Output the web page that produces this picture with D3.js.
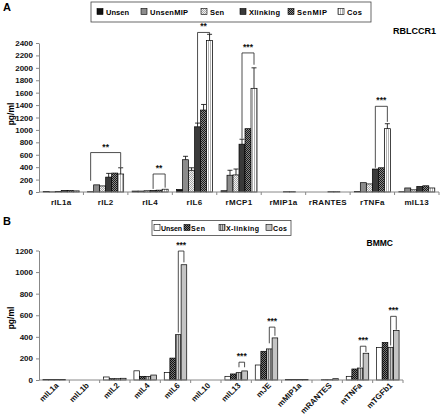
<!DOCTYPE html>
<html><head><meta charset="utf-8">
<script src="https://cdn.jsdelivr.net/npm/d3@7"></script>
<style>body{margin:0;background:#fff}svg{font-family:"Liberation Sans",Arial,sans-serif;font-weight:bold}</style>
</head><body><svg id="c" width="440" height="417"></svg>
<script>
// ---------- Panel A data ----------
const catsA = ["rIL1a","rIL2","rIL4","rIL6","rMCP1","rMIP1a","rRANTES","rTNFa","mIL13"];
const seriesA = ["Unsen","UnsenMIP","Sen","Xlinking","SenMIP","Cos"];
const valsA = {
  Unsen:    [8, 5, 15, 40, 20, 0, 0, 10, 5],
  UnsenMIP: [2, 115, 15, 520, 270, 0, 0, 150, 65],
  Sen:      [8, 98, 20, 350, 275, 0, 0, 130, 35],
  Xlinking: [25, 240, 25, 1050, 770, 5, 5, 370, 90],
  SenMIP:   [25, 305, 30, 1320, 1020, 5, 5, 390, 100],
  Cos:      [18, 290, 45, 2440, 1670, 0, 0, 1020, 65]
};
const errA = {
  Unsen:    [0,0,0,0,0,0,0,0,0],
  UnsenMIP: [0,0,0,55,80,0,0,0,0],
  Sen:      [0,0,0,40,95,0,0,0,0],
  Xlinking: [0,60,0,60,80,0,0,0,0],
  SenMIP:   [0,0,0,90,0,0,0,0,0],
  Cos:      [0,100,0,100,330,0,0,80,0]
};
const ticksA = [0,200,400,600,800,1000,1200,1400,1600,1800,2000,2200,2400];
// brackets: category, from series, to series, top value, left leg bottom, right leg bottom, label
const bracketsA = [
  ["rIL2","Unsen","Cos",635,180,400,"**"],
  ["rIL4","Xlinking","Cos",290,50,70,"**"],
  ["rIL6","Xlinking","Cos",2570,1090,2520,"**"],
  ["rMCP1","Xlinking","Cos",2240,860,2050,"***"],
  ["rTNFa","Xlinking","Cos",1380,390,1130,"***"]
];

// ---------- Panel B data ----------
const catsB = ["mIL1a","mIL1b","mIL2","mIL4","mIL6","mIL10","mIL13","mJE","mMIP1a","mRANTES","mTNFa","mTGFb1"];
const seriesB = ["Unsen","Sen","X-linking","Cos"];
const valsB = {
  "Unsen":     [5, 0, 28, 85, 70, 0, 34, 139, 5, 0, 34, 300],
  "Sen":       [5, 0, 12, 34, 203, 0, 56, 266, 5, 3, 102, 347],
  "X-linking": [5, 0, 12, 32, 420, 0, 68, 288, 5, 3, 111, 303],
  "Cos":       [5, 0, 16, 46, 1068, 0, 84, 390, 5, 12, 248, 458]
};
const ticksB = [0,200,400,600,800,1000,1200];
const bracketsB = [
  ["mIL6","X-linking","Cos",1195,440,1090,"***"],
  ["mIL13","X-linking","Cos",165,118,118,"***"],
  ["mJE","X-linking","Cos",490,340,410,"***"],
  ["mTNFa","X-linking","Cos",313,120,260,"***"],
  ["mTGFb1","X-linking","Cos",590,320,465,"***"]
];

const svg = d3.select("#c");
const defs = svg.append("defs");
function checker(id, a, b, s){
  const p = defs.append("pattern").attr("id",id).attr("width",s*2).attr("height",s*2).attr("patternUnits","userSpaceOnUse");
  p.append("rect").attr("width",s*2).attr("height",s*2).attr("fill",a);
  p.append("rect").attr("width",s).attr("height",s).attr("fill",b);
  p.append("rect").attr("x",s).attr("y",s).attr("width",s).attr("height",s).attr("fill",b);
}
function vstripe(id, bg, fg){
  const p = defs.append("pattern").attr("id",id).attr("width",2).attr("height",2).attr("patternUnits","userSpaceOnUse");
  p.append("rect").attr("width",2).attr("height",2).attr("fill",bg);
  p.append("rect").attr("width",1).attr("height",2).attr("fill",fg);
}
checker("chkLight","#f2f2f2","#a8a8a8",1);
checker("chkDark","#8a8a8a","#1a1a1a",1);
vstripe("stripeCos","#ffffff","#b0b0b0");
vstripe("stripeX","#c8c8c8","#707070");
checker("chkB","#777","#111",1);

const fillA = {Unsen:"#111111",UnsenMIP:"#8c8c8c",Sen:"url(#chkLight)",Xlinking:"#3a3a3a",SenMIP:"url(#chkDark)",Cos:"url(#stripeCos)"};
const fillB = {"Unsen":"#ffffff","Sen":"url(#chkB)","X-linking":"url(#stripeX)","Cos":"#c4c4c4"};

function panel(opts){
  const {cats, series, vals, errs, ticks, brackets, x0, x1, yTop, yBot, ymax, fills, rot, pad} = opts;
  const x = d3.scaleBand().domain(cats).range([x0,x1]);
  const xs = d3.scaleBand().domain(series).range([0,x.bandwidth()]).paddingOuter(pad).paddingInner(0);
  const y = d3.scaleLinear().domain([0,ymax]).range([yBot,yTop]);
  const g = svg.append("g");
  // bars
  series.forEach(s=>{
    cats.forEach((c,i)=>{
      const v = vals[s][i];
      const bx = x(c)+xs(s), w = xs.bandwidth();
      if (v>0) g.append("rect").attr("x",bx).attr("y",y(v)).attr("width",w).attr("height",y(0)-y(v))
        .attr("fill",fills[s]).attr("stroke","#000").attr("stroke-width",0.7);
      const e = errs ? errs[s][i] : 0;
      if (e>0){
        const cx = bx+w/2;
        g.append("line").attr("x1",cx).attr("x2",cx).attr("y1",y(v)).attr("y2",y(v+e)).attr("stroke","#000").attr("stroke-width",0.8);
        g.append("line").attr("x1",cx-2.5).attr("x2",cx+2.5).attr("y1",y(v+e)).attr("y2",y(v+e)).attr("stroke","#000").attr("stroke-width",0.8);
      }
    });
  });
  // axes
  const ya = g.append("g").attr("transform",`translate(${x0},0)`)
    .call(d3.axisLeft(y).tickValues(ticks).tickSize(3).tickSizeOuter(0).tickFormat(d3.format("d")));
  ya.select(".domain").attr("stroke","#888");
  ya.selectAll(".tick line").attr("stroke","#888");
  ya.selectAll("text").attr("font-size",8).attr("font-weight","bold").attr("fill","#111").attr("font-family","Liberation Sans, Arial");
  const xa = g.append("g").attr("transform",`translate(0,${yBot})`);
  xa.append("line").attr("x1",x0).attr("x2",x1).attr("stroke","#888");
  cats.forEach(c=>{ xa.append("line").attr("x1",x(c)+x.bandwidth()).attr("x2",x(c)+x.bandwidth()).attr("y1",0).attr("y2",3).attr("stroke","#888"); });
  cats.forEach(c=>{
    const cx = x(c)+x.bandwidth()/2;
    if(!rot){
      xa.append("text").attr("x",cx).attr("y",13).attr("text-anchor","middle").attr("font-size",8).attr("letter-spacing",0.3).attr("fill","#111").text(c);
    } else {
      xa.append("text").attr("transform",`translate(${cx+5},6) rotate(-45)`).attr("text-anchor","end").attr("font-size",8).attr("fill","#111").text(c);
    }
  });
  // brackets
  brackets.forEach(b=>{
    const [c,s1,s2,top,l1,l2,lab] = b;
    const xa1 = x(c)+xs(s1)+xs.bandwidth()/2, xa2 = x(c)+xs(s2)+xs.bandwidth()/2;
    g.append("path").attr("d",`M${xa1},${y(l1)}V${y(top)}H${xa2}V${y(l2)}`).attr("fill","none").attr("stroke","#222").attr("stroke-width",0.8);
    g.append("text").attr("x",(xa1+xa2)/2).attr("y",y(top)-3).attr("text-anchor","middle").attr("font-size",8.5).attr("fill","#111").text(lab);
  });
  return {x,y};
}

panel({cats:catsA, series:seriesA, vals:valsA, errs:errA, ticks:ticksA, brackets:bracketsA,
  x0:39, x1:439, yTop:43, yBot:192, ymax:2400, fills:fillA, rot:false, pad:0.7});
panel({cats:catsB, series:seriesB, vals:valsB, errs:null, ticks:ticksB, brackets:bracketsB,
  x0:39, x1:403, yTop:250.5, yBot:380, ymax:1200, fills:fillB, rot:true, pad:0.7});

// titles & labels
svg.append("text").attr("x",3).attr("y",11).attr("font-size",11).text("A");
svg.append("text").attr("x",3).attr("y",225).attr("font-size",11).text("B");
svg.append("text").attr("x",436).attr("y",34).attr("text-anchor","end").attr("font-size",9).text("RBLCCR1");
svg.append("text").attr("x",393).attr("y",246).attr("text-anchor","end").attr("font-size",8.5).text("BMMC");
svg.append("text").attr("transform","translate(14,114) rotate(-90)").attr("text-anchor","middle").attr("font-size",8.5).text("pg/ml");
svg.append("text").attr("transform","translate(14,318) rotate(-90)").attr("text-anchor","middle").attr("font-size",8.5).text("pg/ml");

// legend A
const legA = svg.append("g");
legA.append("rect").attr("x",91).attr("y",2).attr("width",280).attr("height",20).attr("fill","#fff").attr("stroke","#444").attr("stroke-width",0.8);
const legAx = [97,141,201,240,288,338];
const legAw = [23,38,14,31,30,15];
seriesA.forEach((s,i)=>{
  legA.append("rect").attr("x",legAx[i]).attr("y",8.5).attr("width",6).attr("height",6).attr("fill",fillA[s]).attr("stroke","#000").attr("stroke-width",0.6);
  legA.append("text").attr("x",legAx[i]+9).attr("y",14.5).attr("font-size",7.5).attr("textLength",legAw[i]).attr("lengthAdjust","spacing").text(s);
});
// legend B
const legB = svg.append("g");
legB.append("rect").attr("x",152).attr("y",220.5).attr("width",139).attr("height",15).attr("fill","#fff").attr("stroke","#444").attr("stroke-width",0.8);
const legBx = [154,184,219,266];
const legBw = [21,14,33,14];
seriesB.forEach((s,i)=>{
  legB.append("rect").attr("x",legBx[i]).attr("y",224.5).attr("width",6).attr("height",6).attr("fill",fillB[s]).attr("stroke","#000").attr("stroke-width",0.6);
  legB.append("text").attr("x",legBx[i]+7).attr("y",231).attr("font-size",7).attr("textLength",legBw[i]).attr("lengthAdjust","spacing").text(s);
});
</script></body></html>
